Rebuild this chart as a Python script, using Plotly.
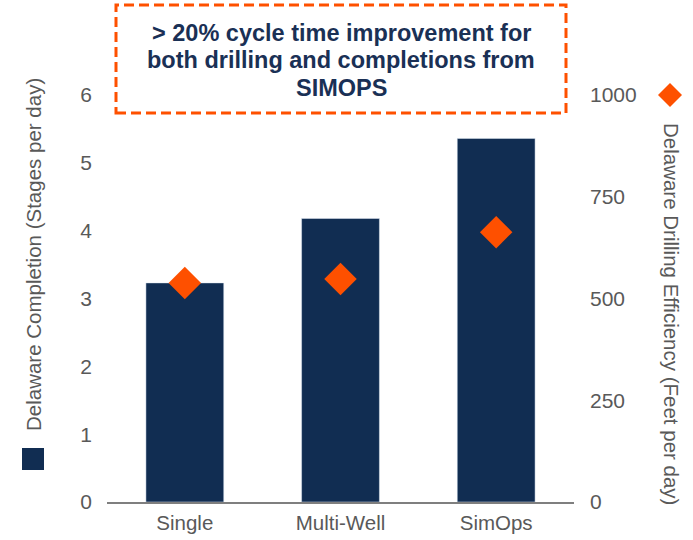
import plotly.graph_objects as go

categories = ["Single", "Multi-Well", "SimOps"]
completion_stages = [3.23, 4.18, 5.36]
drilling_feet = [538, 548, 663]
left_ticks = [0, 1, 2, 3, 4, 5, 6]
right_ticks = [0, 250, 500, 750, 1000]
box_lines = ["> 20% cycle time improvement for",
             "both drilling and completions from",
             "SIMOPS"]

NAVY = "#112d52"
ORANGE = "#fe5000"
GRAY = "#595959"
FONT = "Liberation Sans, Arial, sans-serif"

L, R, T, B = 107, 574, 95, 502
W, H = 693, 540


def px(x):
    return (x - L) / (R - L)


def py(y):
    return (B - y) / (B - T)


fig = go.Figure()
fig.add_trace(go.Bar(x=categories, y=completion_stages, marker_color=NAVY,
                     name="Delaware Completion", yaxis="y"))
fig.add_trace(go.Scatter(x=categories, y=drilling_feet, mode="markers",
                         marker=dict(symbol="diamond", size=25, color=ORANGE),
                         name="Delaware Drilling Efficiency", yaxis="y2"))

fig.update_layout(
    width=W, height=H,
    margin=dict(l=L, r=W - R, t=T, b=H - B, autoexpand=False),
    paper_bgcolor="white", plot_bgcolor="white",
    showlegend=False, bargap=0.5,
    font=dict(family=FONT, color=GRAY, size=21),
    xaxis=dict(showline=True, linecolor="#7f7f7f", linewidth=1.5, automargin=False,
               ticks="", ticklabelstandoff=2, tickfont=dict(size=20.5, color=GRAY)),
    yaxis=dict(range=[0, 6], tickvals=left_ticks, showgrid=False, zeroline=False,
               showline=False, ticks="", ticklabelstandoff=14, automargin=False,
               tickfont=dict(size=21, color=GRAY)),
    yaxis2=dict(range=[0, 1000], tickvals=right_ticks, overlaying="y", side="right",
                showgrid=False, zeroline=False, showline=False, ticks="",
                automargin=False,
                ticklabelstandoff=15, tickfont=dict(size=21, color=GRAY)),
)

# axis titles
fig.add_annotation(xref="paper", yref="paper", x=px(33), y=py(255),
                   text="Delaware Completion (Stages per day)", textangle=-90,
                   showarrow=False, xanchor="center", yanchor="middle",
                   font=dict(size=20.5, color=GRAY, family=FONT))
fig.add_annotation(xref="paper", yref="paper", x=px(672), y=py(314),
                   text="Delaware Drilling Efficiency (Feet per day)", textangle=90,
                   showarrow=False, xanchor="center", yanchor="middle",
                   font=dict(size=20.5, color=GRAY, family=FONT))
# legend keys
fig.add_shape(type="rect", xref="paper", yref="paper",
              x0=px(22), x1=px(44), y0=py(470), y1=py(448),
              line=dict(width=0), fillcolor=NAVY)
cx, cy, hw = 670, 95, 12
fig.add_shape(type="path", xref="paper", yref="paper",
              path="M %f %f L %f %f L %f %f L %f %f Z" % (
                  px(cx), py(cy - hw), px(cx + hw), py(cy),
                  px(cx), py(cy + hw), px(cx - hw), py(cy)),
              line=dict(width=0), fillcolor=ORANGE)

# callout box
fig.add_shape(type="rect", xref="paper", yref="paper",
              x0=px(116), x1=px(566), y0=py(113), y1=py(5),
              line=dict(color=ORANGE, width=3, dash="10px,5px"), fillcolor="white")
for line_text, yy in zip(box_lines, [33, 60, 88]):
    fig.add_annotation(xref="paper", yref="paper", x=px(341), y=py(yy),
                       text="<b>%s</b>" % line_text.replace(">", "&gt;"),
                       showarrow=False, xanchor="center", yanchor="middle",
                       font=dict(size=23.5, color="#1a3055", family=FONT))

fig.write_html("out.html", config={"displayModeBar": False},
               post_script="document.body.style.margin='0px';")
